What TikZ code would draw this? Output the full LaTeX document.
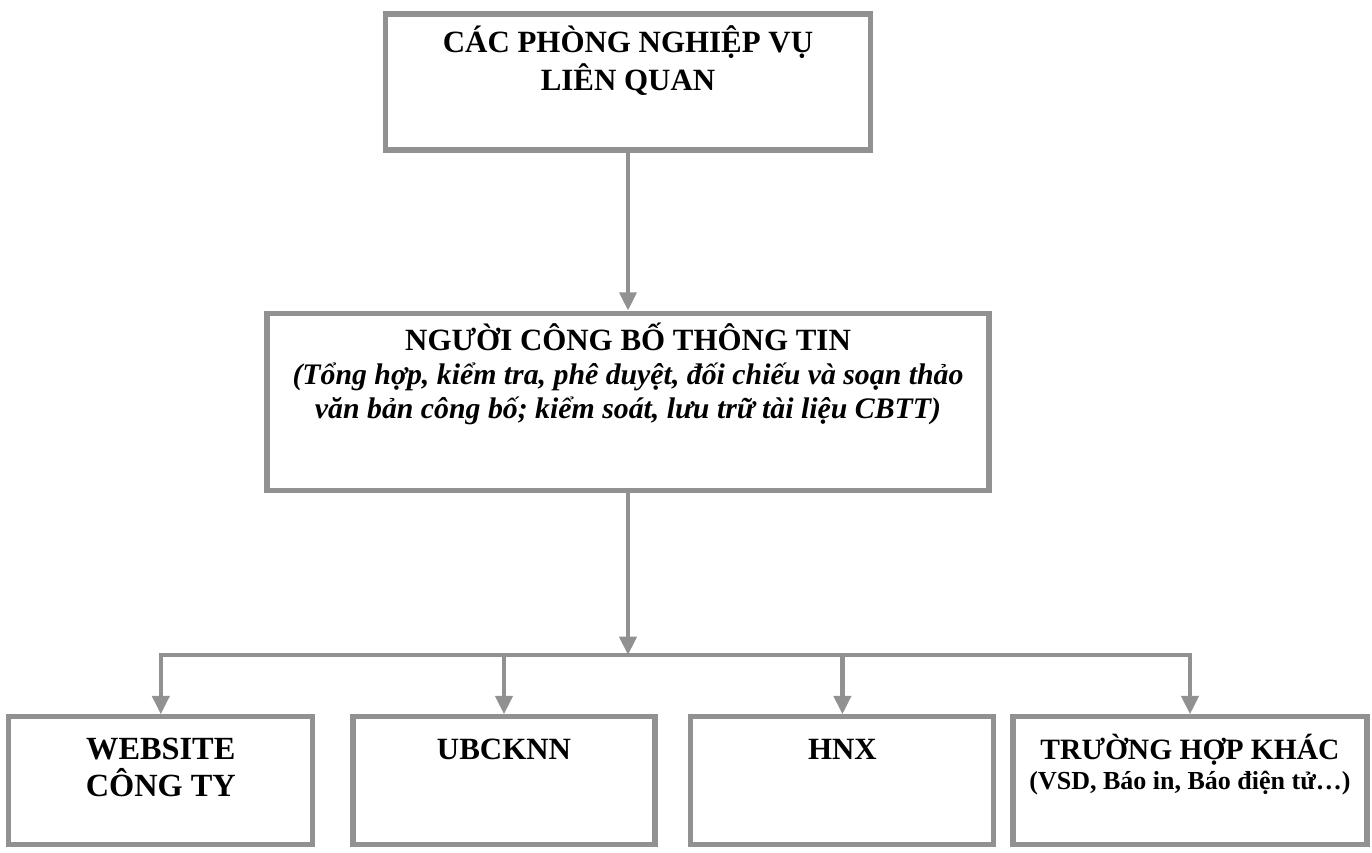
\documentclass[tikz,border=0pt]{standalone}
\usepackage{fontspec}
\setmainfont{Liberation Serif}
\usepackage{tikz}
\usetikzlibrary{arrows.meta}
\definecolor{framegray}{RGB}{145,145,145}
\setlength{\lineskiplimit}{-20pt}
\newcommand{\boxtext}[4]{\parbox[c][#1][t]{#2}{\centering\rule{0pt}{#3}#4}}

\begin{document}
\begin{tikzpicture}[
  unit/.style={
    draw=framegray,
    line width=3.6pt,
    fill=white,
    inner sep=0pt,
    font=\bfseries
  },
  arrow/.style={-{Triangle[length=13pt,width=12pt]}, line width=3pt, draw=framegray},
  bus/.style={line width=3pt, draw=framegray, line cap=rect}
]
  \useasboundingbox (0,0) rectangle (34.3,21.3);

  \node[unit] (dept) at (15.7,19.25)
    {\fontsize{22}{27}\selectfont\boxtext{3.4cm}{12.125cm}{27.7pt}{CÁC PHÒNG NGHIỆP VỤ\\LIÊN QUAN}};
  \node[unit] (cbtt) at (15.7,11.26)
    {\fontsize{22}{24.2}\selectfont\boxtext{4.425cm}{18.05cm}{26.3pt}{NGƯỜI CÔNG BỐ THÔNG TIN\\
    {\fontsize{21.2}{24.2}\selectfont\itshape (Tổng hợp, kiểm tra, phê duyệt, đối chiếu và soạn thảo\\
    văn bản công bố; kiểm soát, lưu trữ tài liệu CBTT)}}};

  \node[unit] (web) at (4.02,1.78)
    {\fontsize{23}{26.3}\selectfont\boxtext{3.2cm}{7.6cm}{30.6pt}{WEBSITE\\CÔNG TY}};
  \node[unit] (ubck) at (12.6,1.78)
    {\fontsize{22}{26}\selectfont\boxtext{3.2cm}{7.55cm}{30.6pt}{UBCKNN}};
  \node[unit] (hnx) at (21.06,1.78)
    {\fontsize{22}{26}\selectfont\boxtext{3.2cm}{7.575cm}{30.6pt}{HNX}};
  \node[unit] (other) at (29.75,1.78)
    {\fontsize{21}{21.3}\selectfont\boxtext{3.2cm}{8.85cm}{30.6pt}{TRƯỜNG HỢP KHÁC\\
    {\fontsize{18.5}{21.3}\selectfont (VSD, Báo in, Báo điện tử…)}}};

  \coordinate (split) at (15.7,4.925);

  \draw[arrow] (dept) -- (cbtt);
  \draw[arrow] (cbtt) -- (split);
  \draw[bus] (web.north |- split) -- (other.north |- split);
  \foreach \n in {web,ubck,hnx,other}
    \draw[arrow] (\n.north |- split) -- (\n);
\end{tikzpicture}
\end{document}
